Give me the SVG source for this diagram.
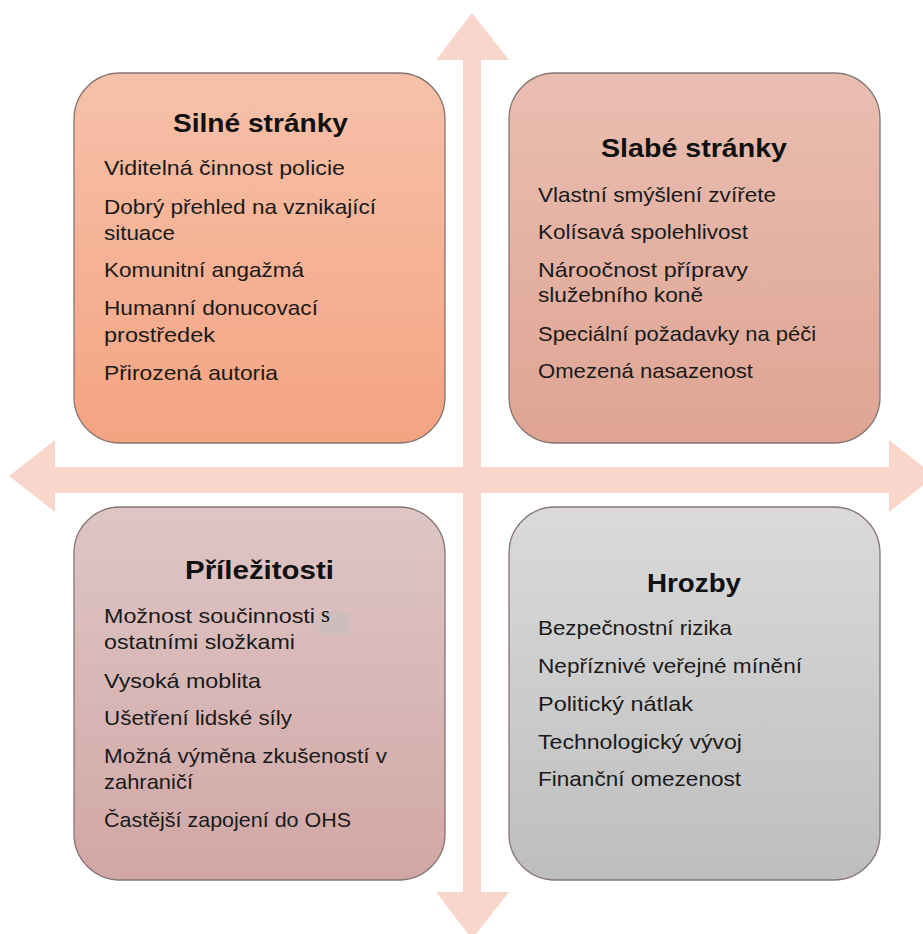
<svg xmlns="http://www.w3.org/2000/svg" width="923" height="934" viewBox="0 0 923 934">
<defs>
<linearGradient id="g1" x1="0" y1="0" x2="0" y2="1"><stop offset="0" stop-color="#F6C1AA"/><stop offset="1" stop-color="#F4A381"/></linearGradient>
<linearGradient id="g2" x1="0" y1="0" x2="0" y2="1"><stop offset="0" stop-color="#E9BEB1"/><stop offset="1" stop-color="#DFA493"/></linearGradient>
<linearGradient id="g3" x1="0" y1="0" x2="0" y2="1"><stop offset="0" stop-color="#DEC6C6"/><stop offset="1" stop-color="#D1A7A5"/></linearGradient>
<linearGradient id="g4" x1="0" y1="0" x2="0" y2="1"><stop offset="0" stop-color="#DADADA"/><stop offset="1" stop-color="#BEBEBE"/></linearGradient>
<style>
.box{stroke:#857573;stroke-width:1.3}
.t{font-family:"Liberation Sans",Arial,sans-serif;font-weight:bold;font-size:26px;fill:#111}
.i{font-family:"Liberation Sans",Arial,sans-serif;font-size:21px;fill:#1a1a1a}
.arr{fill:#F8D6CC}
</style>
</defs>
<g id="connectors">
<polygon class="arr" points="472,13 509,60 481,60 481,892 509,892 472,939 436,892 463,892 463,60 436,60"/>
<polygon class="arr" points="9,476 55,440 55,467 889,467 889,440 935,476 889,512 889,493 55,493 55,512"/>
</g>
<g id="strengths">
<rect class="box" x="74" y="73" width="371" height="370" rx="46" fill="url(#g1)"/>
<text class="t" x="173" y="132" textLength="175" lengthAdjust="spacingAndGlyphs">Silné stránky</text>
<text class="i" x="104" y="175" textLength="241" lengthAdjust="spacingAndGlyphs">Viditelná činnost policie</text>
<text class="i" x="104" y="214" textLength="272" lengthAdjust="spacingAndGlyphs">Dobrý přehled na vznikající</text>
<text class="i" x="104" y="240" textLength="71" lengthAdjust="spacingAndGlyphs">situace</text>
<text class="i" x="104" y="277" textLength="200" lengthAdjust="spacingAndGlyphs">Komunitní angažmá</text>
<text class="i" x="104" y="315" textLength="214" lengthAdjust="spacingAndGlyphs">Humanní donucovací</text>
<text class="i" x="104" y="342" textLength="111" lengthAdjust="spacingAndGlyphs">prostředek</text>
<text class="i" x="104" y="380" textLength="174" lengthAdjust="spacingAndGlyphs">Přirozená autoria</text>
</g>
<g id="weaknesses">
<rect class="box" x="509" y="73" width="371" height="370" rx="46" fill="url(#g2)"/>
<text class="t" x="601" y="157" textLength="186" lengthAdjust="spacingAndGlyphs">Slabé stránky</text>
<text class="i" x="538" y="202" textLength="238" lengthAdjust="spacingAndGlyphs">Vlastní smýšlení zvířete</text>
<text class="i" x="538" y="239" textLength="210" lengthAdjust="spacingAndGlyphs">Kolísavá spolehlivost</text>
<text class="i" x="538" y="277" textLength="210" lengthAdjust="spacingAndGlyphs">Nároočnost přípravy</text>
<text class="i" x="538" y="302" textLength="165" lengthAdjust="spacingAndGlyphs">služebního koně</text>
<text class="i" x="538" y="341" textLength="278" lengthAdjust="spacingAndGlyphs">Speciální požadavky na péči</text>
<text class="i" x="538" y="378" textLength="215" lengthAdjust="spacingAndGlyphs">Omezená nasazenost</text>
</g>
<g id="opportunities">
<rect class="box" x="74" y="507" width="371" height="373" rx="46" fill="url(#g3)"/>
<text class="t" x="185" y="579" textLength="149" lengthAdjust="spacingAndGlyphs">Příležitosti</text>
<rect x="319" y="612" width="30" height="23" fill="#CDBDBC"/>
<text class="i" x="104" y="623" textLength="211" lengthAdjust="spacingAndGlyphs">Možnost součinnosti</text>
<text x="321" y="622" font-family="'Liberation Serif','Times New Roman',serif" font-size="23" fill="#111">s</text>
<text class="i" x="104" y="649" textLength="191" lengthAdjust="spacingAndGlyphs">ostatními složkami</text>
<text class="i" x="104" y="688" textLength="157" lengthAdjust="spacingAndGlyphs">Vysoká moblita</text>
<text class="i" x="104" y="725" textLength="188" lengthAdjust="spacingAndGlyphs">Ušetření lidské síly</text>
<text class="i" x="104" y="763" textLength="283" lengthAdjust="spacingAndGlyphs">Možná výměna zkušeností v</text>
<text class="i" x="104" y="789" textLength="89" lengthAdjust="spacingAndGlyphs">zahraničí</text>
<text class="i" x="104" y="827" textLength="247" lengthAdjust="spacingAndGlyphs">Častější zapojení do OHS</text>
</g>
<g id="threats">
<rect class="box" x="509" y="507" width="371" height="373" rx="46" fill="url(#g4)"/>
<text class="t" x="647" y="592" textLength="94" lengthAdjust="spacingAndGlyphs">Hrozby</text>
<text class="i" x="538" y="635" textLength="194" lengthAdjust="spacingAndGlyphs">Bezpečnostní rizika</text>
<text class="i" x="538" y="673" textLength="264" lengthAdjust="spacingAndGlyphs">Nepříznivé veřejné mínění</text>
<text class="i" x="538" y="711" textLength="155" lengthAdjust="spacingAndGlyphs">Politický nátlak</text>
<text class="i" x="538" y="749" textLength="204" lengthAdjust="spacingAndGlyphs">Technologický vývoj</text>
<text class="i" x="538" y="786" textLength="203" lengthAdjust="spacingAndGlyphs">Finanční omezenost</text>
</g>
</svg>
